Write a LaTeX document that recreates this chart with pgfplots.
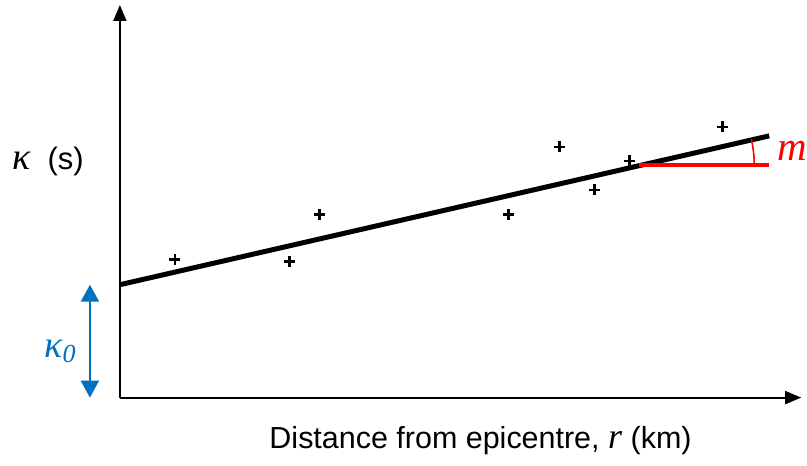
\documentclass[border=0pt]{standalone}
\usepackage{pgfplots}
\pgfplotsset{compat=1.18}
\usetikzlibrary{arrows.meta}
\usepackage{fontspec}
\setmainfont{Liberation Sans}
\newfontfamily\tms{Liberation Serif}
\definecolor{kblue}{RGB}{0,112,192}
\begin{document}
\begin{tikzpicture}
\begin{axis}[
  scale only axis, x=1pt, y=1pt,
  xmin=0, xmax=682, ymin=0, ymax=393,
  axis lines=left,
  axis line style={line width=2pt, -{Triangle[length=16pt,width=13pt]}},
  xtick=\empty, ytick=\empty, clip=false,
]
\path (axis cs:-120,-68) rectangle (axis cs:687,398);
\addplot[black, line width=5pt] coordinates {(0,113) (650,262)};
\addplot[red, line width=4.5pt] coordinates {(520,233) (650,233)};
\addplot[only marks, mark=+, mark size=5.5pt, mark options={line width=2.6pt, black}] coordinates {
(55,138) (170,136) (200,183) (389,183) (440,251) (475,208) (510,237) (603,271)};
\draw[red, line width=1.6pt] (axis cs:635,233) arc[start angle=0, end angle=12.9, radius=115pt];
\node[anchor=west, red, inner sep=0pt] at (axis cs:658,247) {\fontsize{41}{44}\selectfont\tms\itshape m};
\draw[kblue, line width=2.2pt, {Triangle[length=17pt,width=18pt]}-{Triangle[length=17pt,width=18pt]}] (axis cs:-30,113) -- (axis cs:-30,0);
\node[kblue, inner sep=0pt] at (axis cs:-60,46) {\fontsize{38}{40}\selectfont\tms\itshape κ\raisebox{-5pt}{\fontsize{26}{28}\selectfont 0}};
\node[anchor=west, inner sep=0pt] at (axis cs:-108,236) {\fontsize{38}{40}\selectfont\tms\itshape κ\fontsize{31}{34}\selectfont\normalfont\ \ (s)};
\node[inner sep=0pt] at (axis cs:361,-43) {\fontsize{30.5}{34}\selectfont Distance from epicentre, {\fontsize{36}{34}\selectfont\tms\itshape r} (km)};
\end{axis}
\end{tikzpicture}
\end{document}
